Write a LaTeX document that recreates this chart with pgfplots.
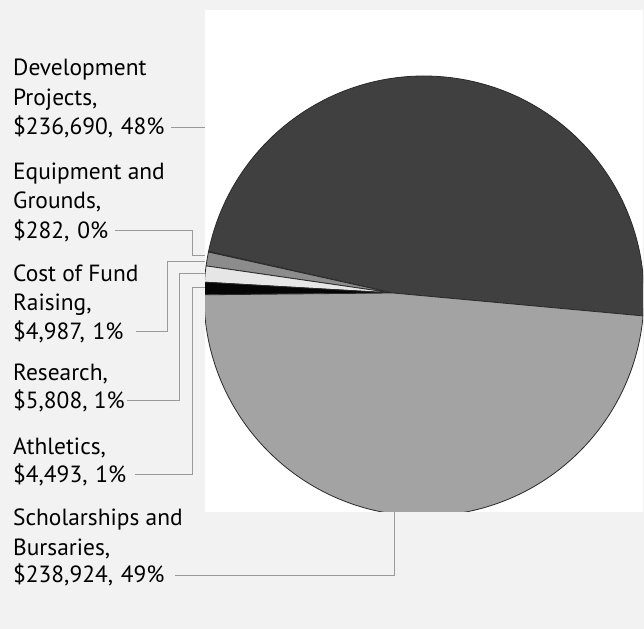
\documentclass[border=0pt]{standalone}
\usepackage{pgfplots}
\pgfplotsset{compat=1.18}
\usepackage{fontspec}
\setmainfont{PT Sans}

\definecolor{bgc}{HTML}{F2F2F2}
\definecolor{devc}{HTML}{404040}
\definecolor{eqc}{HTML}{B0B0B0}
\definecolor{costc}{HTML}{8C8C8C}
\definecolor{resc}{HTML}{E6E6E6}
\definecolor{athc}{HTML}{050505}
\definecolor{schc}{HTML}{A3A3A3}
\definecolor{edgec}{HTML}{2A2A2A}
\definecolor{leadc}{HTML}{9A9A9A}

\tikzset{lead/.style={leadc, line width=1bp, mark=none, solid}}

% one label line, y given in pixels from the top
\newcommand{\lbl}[2]{\node[anchor=base west, inner sep=0pt, font=\fontsize{23.5}{29}\selectfont, text=black]
  at (axis cs:13,{629-#1}) {#2};}
\newcommand{\gap}{\ \hspace{1.5bp}}

\begin{document}
\begin{tikzpicture}
\begin{axis}[
    width=644bp, height=629bp, scale only axis,
    xmin=0, xmax=644, ymin=0, ymax=629,
    hide axis, clip=false,
]
% background and white plot area
\pgfplotsextra{
  \fill[bgc] (axis cs:0,0) rectangle (axis cs:644,629);
  \fill[white] (axis cs:205,117) rectangle (axis cs:643,619);
}

% pie slices, values in dollars, clipped to the white area
\pgfplotsextra{
  \begin{scope}
  \clip (axis cs:205,117) rectangle (axis cs:643,619);
  \gdef\cum{0}
  \foreach \v/\c in {236690/devc, 282/eqc, 4987/costc, 5808/resc, 4493/athc, 238924/schc}{
    \edef\a{\fpeval{-5.2+\cum*360/491184}}
    \edef\b{\fpeval{-5.2+(\cum+\v)*360/491184}}
    \fill[\c, draw=edgec, line width=0.8bp, line join=round]
      (axis cs:393,336) -- ([shift={(\a:220bp)}]axis cs:424,333)
      arc[start angle=\a, end angle=\b, radius=220bp] -- cycle;
    \xdef\cum{\fpeval{\cum+\v}}
  }
  \end{scope}
}

% leader lines
\addplot[lead] coordinates {(171,501) (205,501)};
\addplot[lead] coordinates {(115,398) (192,398) (192,373) (205,373)};
\addplot[lead] coordinates {(136,297) (167,297) (167,367) (205,367)};
\addplot[lead] coordinates {(127,228) (179,228) (179,355) (205,355)};
\addplot[lead] coordinates {(135,154) (192,154) (192,341) (205,341)};
\addplot[lead] coordinates {(175,53) (394,53) (394,117)};

% labels
\lbl{76}{Development}
\lbl{105.5}{Projects,}
\lbl{135}{\$236,690,\gap 48\%}
\lbl{180}{Equipment and}
\lbl{209}{Grounds,}
\lbl{239}{\$282,\gap 0\%}
\lbl{282}{Cost of Fund}
\lbl{311}{Raising,}
\lbl{340}{\$4,987,\gap 1\%}
\lbl{381}{Research,}
\lbl{409}{\$5,808, 1\%}
\lbl{455}{Athletics,}
\lbl{483}{\$4,493,\gap 1\%}
\lbl{526}{Scholarships and}
\lbl{556}{Bursaries,}
\lbl{583}{\$238,924,\gap 49\%}
\end{axis}
\end{tikzpicture}
\end{document}
